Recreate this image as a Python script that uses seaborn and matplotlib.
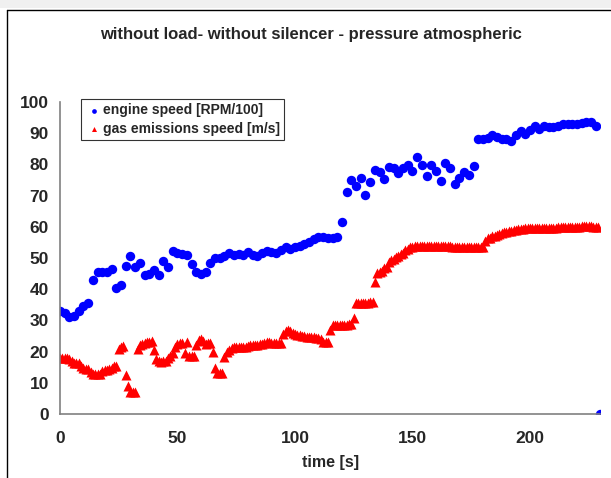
import numpy as np
import pandas as pd
import matplotlib
matplotlib.use("Agg")
import matplotlib.pyplot as plt
from matplotlib.lines import Line2D
from matplotlib.patches import Rectangle
import seaborn as sb

# engine speed, sampled every 2 s (last sample at 230 s reads 0)
time_engine = np.arange(0, 232, 2)
engine_speed = [33, 32.5, 31, 31.5, 33, 34.5, 35.5, 43, 45.5, 45.5,
                45.5, 46.5, 40.5, 41.5, 47.5, 50.5, 47, 48.5, 44.5, 45,
                46, 44.5, 49, 47, 52.3, 51.5, 51.2, 51, 48.2, 45.5,
                45, 45.5, 48.5, 50, 50, 50.5, 51.5, 51, 51.2, 51,
                52, 51, 50.5, 51.5, 52.3, 52, 51.5, 52.5, 53.5, 53,
                53.5, 54, 54.5, 55, 56, 56.8, 56.8, 56.5, 56.3, 56.8,
                61.5, 71.2, 75, 73, 75.5, 70.2, 74.5, 78.2, 77.5, 75.2,
                79.3, 78.7, 77.4, 78.7, 79.8, 78, 82.3, 79.8, 76.3, 79.8,
                78, 74.8, 80.3, 78.9, 73.6, 75.8, 77.7, 76.6, 79.4, 88,
                88.3, 88.5, 89.4, 88.8, 88.3, 88, 87.5, 89.4, 90.8, 89.8,
                91, 92.3, 91.3, 92.3, 92, 92, 92.3, 93.1, 93, 93,
                93.1, 93.3, 93.5, 93.7, 92.3, 0]

# gas emissions speed, sampled every second
time_gas = np.arange(0, 230, 1)
gas_speed = [17.8, 17.8, 17.8, 17.8, 17.6, 17, 16.5, 16.3, 16.2, 15.5,
             14.6, 14.5, 14.3, 13.5, 12.8, 12.7, 12.7, 12.8, 13.8, 14.1,
             14.2, 14.3, 14.8, 15.4, 15.5, 20.7, 21.6, 21.8, 12.5, 9,
             7, 7, 7, 20.7, 22.1, 22.5, 22.9, 23, 23.2, 23.3,
             20.5, 17.5, 16.9, 16.8, 16.9, 17, 17.8, 18.5, 19.6, 21.5,
             22.5, 22.9, 22.9, 19.6, 23.2, 18.6, 18.6, 18.6, 22.1, 23.7,
             23.9, 23.5, 22.4, 22.6, 22.6, 20, 14.6, 13, 13, 13,
             18.2, 20, 20.5, 21, 21.4, 21.4, 21.4, 21.4, 21.5, 21.5,
             21.8, 22, 22, 22.1, 22.1, 22.3, 22.5, 22.8, 23.2, 23,
             22.8, 22.6, 22.6, 22.6, 22.6, 25.5, 26.7, 26.8, 26.7, 26,
             25.6, 25.3, 25.2, 25, 24.9, 24.8, 24.8, 24.8, 24.6, 24.5,
             24.5, 24, 23.2, 23.2, 23.2, 26.9, 28.5, 28.5, 28.5, 28.5,
             28.5, 28.6, 28.6, 28.7, 28.7, 30.7, 35.5, 35.5, 35.6, 35.6,
             35.7, 35.7, 35.8, 35.8, 42.4, 45.3, 45.6, 45.8, 46.7, 47,
             48.8, 49.4, 49.8, 50.4, 50.6, 51.2, 51.6, 52.5, 53, 53.5,
             53.6, 53.8, 53.9, 54, 54, 54, 54, 53.9, 53.9, 53.9,
             53.9, 53.8, 53.8, 53.8, 53.7, 53.7, 53.7, 53.6, 53.6, 53.6,
             53.6, 53.6, 53.6, 53.6, 53.5, 53.5, 53.5, 53.6, 53.6, 53.6,
             53.6, 55.5, 56.3, 56.5, 57, 57.2, 57.3, 57.6, 58, 58.2,
             58.4, 58.6, 58.8, 59, 59.1, 59.2, 59.3, 59.4, 59.5, 59.5,
             59.5, 59.5, 59.5, 59.5, 59.5, 59.5, 59.5, 59.6, 59.6, 59.6,
             59.6, 59.7, 59.8, 59.8, 59.8, 59.8, 59.9, 59.9, 60, 60,
             60, 60, 60.1, 60.2, 60.3, 60.4, 60.3, 60, 59.8, 59.8]

x_ticks = [0, 50, 100, 150, 200]
y_ticks = [0, 10, 20, 30, 40, 50, 60, 70, 80, 90, 100]

engine_df = pd.DataFrame({"time": time_engine, "value": engine_speed})
gas_df = pd.DataFrame({"time": time_gas, "value": gas_speed})

sb.set_style("white")
plt.rcParams["font.family"] = ["Liberation Sans", "DejaVu Sans"]

fig = plt.figure(figsize=(6.11, 4.78), dpi=100)
ax = fig.add_axes([0.0982, 0.1339, 0.8846, 0.6527])

sb.scatterplot(data=engine_df, x="time", y="value", ax=ax, color="#0000ff",
               marker="o", s=46, linewidth=0, label="engine speed [RPM/100]")
sb.scatterplot(data=gas_df, x="time", y="value", ax=ax, color="#ff0000",
               marker="^", s=52, linewidth=0, label="gas emissions speed [m/s]")

ax.set_xlim(0, 230)
ax.set_ylim(0, 100)
ax.set_xticks(x_ticks)
ax.set_yticks(y_ticks)
for lab in ax.get_xticklabels() + ax.get_yticklabels():
    lab.set_fontweight("bold")
ax.tick_params(axis="both", direction="out", length=4, width=1, color="#808080",
               labelsize=12.5, pad=4)
ax.tick_params(axis="x", pad=8)
for side in ["top", "right"]:
    ax.spines[side].set_visible(False)
for side in ["left", "bottom"]:
    ax.spines[side].set_color("#808080")
    ax.spines[side].set_linewidth(1.2)
ax.set_xlabel("time [s]", fontsize=11.5, fontweight="bold", labelpad=7)
ax.set_ylabel("")

leg = ax.legend(loc="upper left", bbox_to_anchor=(81 / 611, 1 - 99 / 478),
                bbox_transform=fig.transFigure, frameon=True, fancybox=False,
                markerscale=0.5, handletextpad=0.1, handlelength=1.2,
                borderpad=0.3, labelspacing=0.35, borderaxespad=0,
                prop={"weight": "bold", "size": 10})
leg.get_frame().set_edgecolor("black")
leg.get_frame().set_linewidth(0.8)

fig.text(311 / 611, 1 - 35 / 478, "without load- without silencer - pressure atmospheric",
         ha="center", va="center", fontsize=12, fontweight="bold")

# outer chart frame cut off at the right and bottom, as in the spreadsheet crop
fig.add_artist(Rectangle((0, 1 - 8 / 478), 1, 8 / 478, transform=fig.transFigure,
                         facecolor="#f0f0f0", edgecolor="none"))
fig.add_artist(Line2D([7 / 611, 1], [1 - 10 / 478, 1 - 10 / 478],
                      transform=fig.transFigure, color="black", linewidth=1))
fig.add_artist(Line2D([7 / 611, 7 / 611], [0, 1 - 10 / 478],
                      transform=fig.transFigure, color="black", linewidth=1))

plt.savefig("out.png", dpi=100)
